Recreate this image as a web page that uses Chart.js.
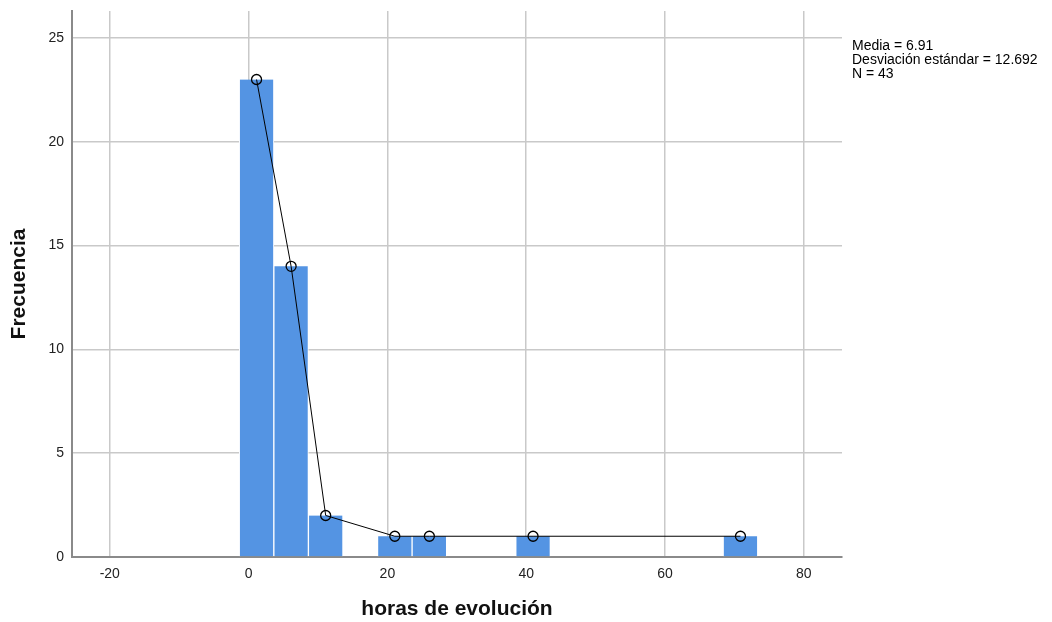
<!DOCTYPE html>
<html>
<head>
<meta charset="utf-8">
<script src="https://cdn.jsdelivr.net/npm/chart.js@4/dist/chart.umd.min.js"></script>
<style>
  body { margin: 0; background: #fff; }
  #wrap { width: 1052px; height: 622px; }
</style>
</head>
<body>
<div id="wrap"><canvas id="hist" width="1052" height="622"></canvas></div>
<script>
// histogram bins (centre of each bin, horas) and frequency per bin
const binCenters = [1.15, 6.13, 11.11, 16.09, 21.07, 26.05, 31.03, 36.01, 40.99, 45.97, 50.95, 55.93, 60.91, 65.89, 70.87];
const frequencies = [23, 14, 2, 0, 1, 1, 0, 0, 1, 0, 0, 0, 0, 0, 1];
const xTickValues = [-20, 0, 20, 40, 60, 80];
const yTickValues = [0, 5, 10, 15, 20, 25];
const statsLines = ["Media = 6.91", "Desviación estándar = 12.692", "N = 43"];

const barPoints = binCenters.map((c, i) => ({ x: c, y: frequencies[i] }));
// SPSS joins only the bins that have cases
const polyPoints = barPoints.filter(p => p.y > 0);

const FONT = "'Liberation Sans', Arial, sans-serif";

const statsText = {
  id: "statsText",
  afterDraw(chart) {
    const ctx = chart.ctx;
    ctx.save();
    ctx.font = "14px " + FONT;
    ctx.fillStyle = "#000";
    ctx.textBaseline = "middle";
    statsLines.forEach((t, i) => ctx.fillText(t, 852, 46.5 + i * 13.7));
    ctx.restore();
  }
};

new Chart(document.getElementById("hist").getContext("2d"), {
  type: "bar",
  data: {
    datasets: [
      {
        type: "line",
        data: polyPoints,
        borderColor: "#000",
        borderWidth: 1,
        pointRadius: 5,
        pointBorderWidth: 1.3,
        pointBorderColor: "#000",
        pointBackgroundColor: "rgba(0,0,0,0)",
        tension: 0,
        order: 0
      },
      {
        data: barPoints,
        backgroundColor: "#5494e3",
        borderColor: "#ffffff",
        borderWidth: { left: 1, right: 1, top: 0, bottom: 0 },
        barPercentage: 1,
        categoryPercentage: 1,
        order: 1
      }
    ]
  },
  options: {
    responsive: false,
    animation: false,
    layout: { padding: { top: 11, right: 210, left: 0, bottom: 0 } },
    plugins: {
      legend: { display: false },
      tooltip: { enabled: false }
    },
    scales: {
      x: {
        type: "linear",
        min: -25.44,
        max: 85.5,
        offset: false,
        afterBuildTicks: (s) => { s.ticks = xTickValues.map(v => ({ value: v })); },
        afterFit: (s) => { s.height = 65; s.paddingLeft = 0; s.paddingRight = 0; },
        grid: { color: "#c9c9c9", lineWidth: 1.5, drawTicks: false, offset: false },
        border: { color: "#8a8a8a", width: 2 },
        ticks: { color: "#222", font: { family: FONT, size: 14 }, padding: 9, maxRotation: 0 },
        title: {
          display: true,
          text: "horas de evolución",
          color: "#111",
          font: { family: FONT, size: 21, weight: "bold" },
          padding: { top: 0, bottom: 0 }
        }
      },
      y: {
        min: 0,
        max: 26.3,
        afterBuildTicks: (s) => { s.ticks = yTickValues.map(v => ({ value: v })); },
        afterFit: (s) => { s.width = 72; s.paddingTop = 0; s.paddingBottom = 0; },
        grid: { color: "#c9c9c9", lineWidth: 1.5, drawTicks: false },
        border: { color: "#8a8a8a", width: 2 },
        ticks: { color: "#222", font: { family: FONT, size: 14 }, padding: 8 },
        title: {
          display: true,
          text: "Frecuencia",
          color: "#111",
          font: { family: FONT, size: 21, weight: "bold" },
          padding: { top: 6.5, bottom: 0 }
        }
      }
    }
  },
  plugins: [statsText]
});
</script>
</body>
</html>
